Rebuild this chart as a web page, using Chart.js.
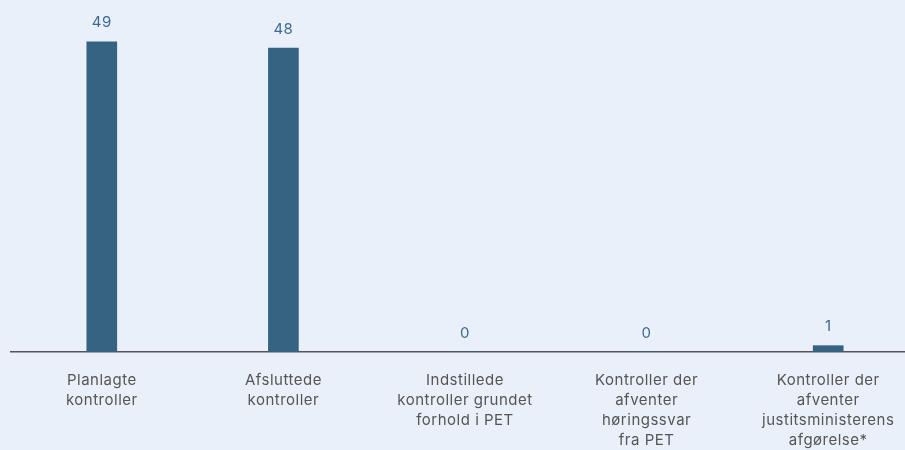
<!DOCTYPE html>
<html><head><meta charset="utf-8">
<script src="https://cdn.jsdelivr.net/npm/chart.js@4/dist/chart.umd.min.js"></script>
<style>
html,body{margin:0;padding:0;background:#eaf0fa;overflow:hidden;}
#wrap{width:919px;height:450px;position:relative;}
</style></head><body>
<div id="wrap"><canvas id="c" width="919" height="450"></canvas></div>
<script>
const categories = [
  ["Planlagte","kontroller"],
  ["Afsluttede","kontroller"],
  ["Indstillede","kontroller grundet","forhold i PET"],
  ["Kontroller der","afventer","høringssvar","fra PET"],
  ["Kontroller der","afventer","justitsministerens","afgørelse*"]
];
const values = [49, 48, 0, 0, 1];

const spacing = {
  id:'spacing',
  beforeDraw(chart){ chart.ctx.letterSpacing = '0.5px'; }
};

const valueLabels = {
  id:'valueLabels',
  afterDatasetsDraw(chart){
    const ctx = chart.ctx;
    const meta = chart.getDatasetMeta(0);
    ctx.save();
    ctx.letterSpacing = '0.5px';
    ctx.font = '15px Inter, "Open Sans", sans-serif';
    ctx.fillStyle = '#3e6a8e';
    ctx.textAlign = 'center';
    ctx.textBaseline = 'middle';
    meta.data.forEach((bar,i)=>{
      ctx.fillText(String(values[i]), bar.x, bar.y - 19);
    });
    ctx.restore();
  }
};

new Chart(document.getElementById('c'), {
  type:'bar',
  data:{labels:categories, datasets:[{data:values, backgroundColor:'#376383', barThickness:30, categoryPercentage:1, barPercentage:1}]},
  options:{
    responsive:false, animation:false,
    layout:{padding:{left:11,right:0,top:0,bottom:0}},
    plugins:{legend:{display:false}, tooltip:{enabled:false}},
    scales:{
      x:{
        grid:{display:false, drawTicks:false},
        border:{display:true, color:'#555', width:1.5},
        ticks:{color:'#555', font:{family:'Inter, "Open Sans", sans-serif', size:15, lineHeight:1.33}, padding:19, maxRotation:0, autoSkip:false},
        afterFit(s){ s.height = 98; }
      },
      y:{display:false, min:0, max:55.6}
    }
  },
  plugins:[spacing, valueLabels]
});
</script></body></html>
